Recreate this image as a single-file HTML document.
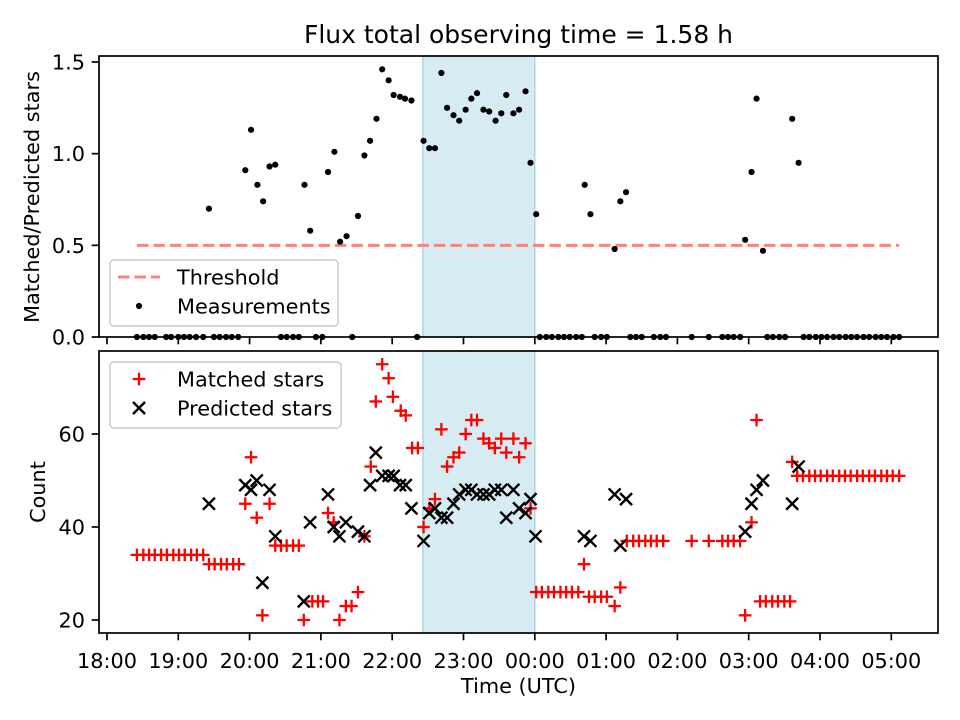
<!DOCTYPE html>
<html><head><meta charset="utf-8"><style>
html,body{margin:0;padding:0;background:#fff;}
svg{display:block;font-family:"DejaVu Sans","Liberation Sans",sans-serif;}
</style></head><body>
<svg id="chart" width="960" height="720" viewBox="0 0 960 720" xmlns="http://www.w3.org/2000/svg">
<rect width="960" height="720" fill="#fff"/>
<text x="518.5" y="43" font-size="25" text-anchor="middle">Flux total observing time = 1.58 h</text>
<g id="top"></g><g id="bot"></g>
</svg>
<script>
// hours since 18:00
const xTickLabels = ["18:00","19:00","20:00","21:00","22:00","23:00","00:00","01:00","02:00","03:00","04:00","05:00"];
const xTickHours = [0,1,2,3,4,5,6,7,8,9,10,11];
const spanStart = 4.43, spanEnd = 6.0;
const threshold = 0.5;
const thresholdRange = [0.42, 11.11];
const ratioTicks = [0.0, 0.5, 1.0, 1.5];
const countTicks = [20, 40, 60];

const ratioTimes = [1.43,1.94,2.02,2.11,2.19,2.28,2.36,2.77,2.85,3.10,3.19,3.27,3.36,3.52,3.61,3.69,3.78,3.86,3.95,4.02,4.11,4.18,4.27,4.44,4.52,4.60,4.69,4.77,4.86,4.94,5.03,5.11,5.19,5.28,5.36,5.45,5.53,5.60,5.70,5.78,5.87,5.94,6.02,6.70,6.78,7.12,7.20,7.28,8.95,9.04,9.11,9.20,9.61,9.70];
const ratioValues = [0.70,0.91,1.13,0.83,0.74,0.93,0.94,0.83,0.58,0.90,1.01,0.52,0.55,0.66,0.99,1.07,1.19,1.46,1.40,1.32,1.31,1.30,1.29,1.07,1.03,1.03,1.44,1.25,1.21,1.18,1.24,1.30,1.33,1.24,1.23,1.18,1.22,1.32,1.22,1.24,1.34,0.95,0.67,0.83,0.67,0.48,0.74,0.79,0.53,0.90,1.30,0.47,1.19,0.95];
const zeroTimes = [0.42,0.51,0.59,0.67,0.83,0.90,1.00,1.08,1.16,1.25,1.35,1.50,1.58,1.67,1.75,1.84,2.44,2.52,2.61,2.69,2.93,3.02,3.44,4.35,6.07,6.16,6.24,6.33,6.41,6.49,6.58,6.66,6.84,6.93,7.01,7.34,7.42,7.50,7.67,7.76,7.84,8.20,8.44,8.63,8.71,8.79,8.88,9.26,9.34,9.43,9.51,9.77,9.85,9.94,10.02,10.10,10.19,10.27,10.36,10.44,10.52,10.61,10.69,10.78,10.86,10.94,11.03,11.11];

const matchedTimes = [0.42,0.51,0.59,0.67,0.76,0.84,0.93,1.01,1.09,1.18,1.26,1.35,1.43,1.51,1.60,1.68,1.77,1.85,1.94,2.02,2.10,2.18,2.28,2.36,2.44,2.52,2.61,2.69,2.76,2.88,2.96,3.03,3.10,3.18,3.26,3.35,3.43,3.52,3.61,3.70,3.77,3.86,3.95,4.01,4.12,4.19,4.28,4.36,4.44,4.52,4.60,4.69,4.77,4.86,4.94,5.03,5.11,5.19,5.28,5.36,5.44,5.53,5.60,5.70,5.78,5.87,5.94,6.02,6.10,6.19,6.27,6.36,6.44,6.52,6.61,6.69,6.76,6.84,6.93,7.01,7.12,7.20,7.29,7.38,7.46,7.55,7.63,7.71,7.80,8.20,8.44,8.63,8.71,8.79,8.88,8.95,9.04,9.11,9.16,9.24,9.33,9.41,9.50,9.58,9.61,9.68,9.76,9.85,9.93,10.01,10.10,10.18,10.27,10.35,10.43,10.52,10.60,10.69,10.77,10.86,10.94,11.02,11.11];
const matchedValues = [34,34,34,34,34,34,34,34,34,34,34,34,32,32,32,32,32,32,45,55,42,21,45,36,36,36,36,36,20,24,24,24,43,41,20,23,23,26,38,53,67,75,72,68,65,64,57,57,40,44,46,61,53,55,56,60,63,63,59,58,57,59,56,59,55,58,44,26,26,26,26,26,26,26,26,32,25,25,25,25,23,27,37,37,37,37,37,37,37,37,37,37,37,37,37,21,41,63,24,24,24,24,24,24,54,51,51,51,51,51,51,51,51,51,51,51,51,51,51,51,51,51,51];
const predictedTimes = [1.43,1.94,2.02,2.10,2.18,2.28,2.36,2.76,2.85,3.10,3.18,3.26,3.35,3.52,3.61,3.69,3.77,3.86,3.95,4.02,4.11,4.19,4.27,4.44,4.52,4.60,4.69,4.77,4.86,4.94,5.03,5.11,5.19,5.28,5.36,5.44,5.53,5.60,5.70,5.78,5.87,5.94,6.01,6.69,6.78,7.12,7.20,7.28,8.95,9.04,9.11,9.20,9.61,9.70];
const predictedValues = [45,49,48,50,28,48,38,24,41,47,40,38,41,39,38,49,56,51,51,51,49,49,44,37,43,44,42,42,45,47,48,48,47,47,47,48,48,42,48,44,43,46,38,38,37,47,36,46,39,45,48,50,45,53];

const NS="http://www.w3.org/2000/svg";
const svg=document.getElementById('chart');
function el(tag,attrs,parent){const e=document.createElementNS(NS,tag);for(const k in attrs)e.setAttribute(k,attrs[k]);(parent||svg).appendChild(e);return e;}
const L=99,R=938;
const X0=-0.112,X1=11.655;
function xs(h){return L+(h-X0)/(X1-X0)*(R-L);}
const TT=56,TB=337, rMin=0, rMax=1.5327;
function yr(v){return TB-(v-rMin)/(rMax-rMin)*(TB-TT);}
const BT=351,BB=633, cMin=17.2, cMax=77.85;
function yc(v){return BB-(v-cMin)/(cMax-cMin)*(BB-BT);}
const FS=20.8;

function panel(top,bot,yfun,ticks,fmt,name){
  const g=el('g',{});
  
  
  const sp=el('rect',{x:xs(spanStart),y:top,width:xs(spanEnd)-xs(spanStart),height:bot-top,fill:'#add8e6','fill-opacity':0.5,stroke:'#add8e6','stroke-width':1.5},g);
  
  
  ticks.forEach(t=>{
    const y=yfun(t);
    const tl=el('line',{x1:L-7.3,x2:L,y1:y,y2:y,stroke:'#000','stroke-width':1.7},g);
    
    
    const tx=el('text',{x:L-14,y:y+7.5,'font-size':FS,'text-anchor':'end'},g);
    tx.textContent=fmt(t);
    
    
  });
  xTickHours.forEach((h,i)=>{
    const x=xs(h);
    const tl=el('line',{x1:x,x2:x,y1:bot,y2:bot+7.3,stroke:'#000','stroke-width':1.7},g);
    
    
  });
  return g;
}
const gt=panel(TT,TB,yr,ratioTicks,v=>v.toFixed(1),'ratio');
// threshold
const th=el('line',{x1:xs(thresholdRange[0]),x2:xs(thresholdRange[1]),y1:yr(threshold),y2:yr(threshold),stroke:'#ff8080','stroke-width':3,'stroke-dasharray':'11.5 5'},gt);


ratioTimes.forEach((t,i)=>{
  const c=el('circle',{cx:xs(t),cy:yr(ratioValues[i]),r:3.1,fill:'#000'},gt);
  
  
});
zeroTimes.forEach(t=>{
  const c=el('circle',{cx:xs(t),cy:yr(0),r:3.1,fill:'#000'},gt);
  
  
});

const gb=panel(BT,BB,yc,countTicks,v=>String(v),'count');
function plus(x,y,parent){const g=el('g',{stroke:'#ff0000','stroke-width':2.3},parent);el('line',{x1:x-6.3,x2:x+6.3,y1:y,y2:y},g);el('line',{x1:x,x2:x,y1:y-6.3,y2:y+6.3},g);return g;}
function cross(x,y,parent){const g=el('g',{stroke:'#000','stroke-width':2.4},parent);el('line',{x1:x-6,x2:x+6,y1:y-6,y2:y+6},g);el('line',{x1:x-6,x2:x+6,y1:y+6,y2:y-6},g);return g;}
matchedTimes.forEach((t,i)=>{
  const m=plus(xs(t),yc(matchedValues[i]),gb);
  
  
});
predictedTimes.forEach((t,i)=>{
  const m=cross(xs(t),yc(predictedValues[i]),gb);
  
  
});
xTickHours.forEach((h,i)=>{
  const tx=el('text',{x:xs(h),y:668,'font-size':FS,'text-anchor':'middle'});
  tx.textContent=xTickLabels[i];
  
  
});
// frames
[[TT,TB,'ratio-frame'],[BT,BB,'count-frame']].forEach(f=>{
  const r=el('rect',{x:L,y:f[0],width:R-L,height:f[1]-f[0],fill:'none',stroke:'#000','stroke-width':1.7});
  
  
});
// legends
function legend(y0,w,items,name){
  const g=el('g',{});
  
  
  el('rect',{x:110,y:y0,width:w,height:66,rx:4,fill:'#fff','fill-opacity':0.8,stroke:'#d0d0d0','stroke-width':1.7},g);
  items.forEach((it,i)=>{
    const cy=y0+17+i*29;
    it.draw(g,cy);
    const t=el('text',{x:177,y:cy+7.5,'font-size':FS},g);
    t.textContent=it.label;
    
    
  });
}
legend(260,228,[
  {label:'Threshold',draw:(g,cy)=>el('line',{x1:118,x2:160,y1:cy,y2:cy,stroke:'#ff8080','stroke-width':3,'stroke-dasharray':'11.5 5'},g)},
  {label:'Measurements',draw:(g,cy)=>el('circle',{cx:139,cy:cy,r:3.1,fill:'#000'},g)}
],'ratio-legend');
legend(362,231,[
  {label:'Matched stars',draw:(g,cy)=>plus(139,cy,g)},
  {label:'Predicted stars',draw:(g,cy)=>cross(139,cy,g)}
],'count-legend');
// axis labels
const yl1=el('text',{x:0,y:0,'font-size':FS,'text-anchor':'middle',transform:'translate(39,197) rotate(-90)'});
yl1.textContent='Matched/Predicted stars';


const yl2=el('text',{x:0,y:0,'font-size':FS,'text-anchor':'middle',transform:'translate(45,492) rotate(-90)'});
yl2.textContent='Count';


const xl=el('text',{x:518.5,y:693,'font-size':FS,'text-anchor':'middle'});
xl.textContent='Time (UTC)';


</script>
</body></html>
